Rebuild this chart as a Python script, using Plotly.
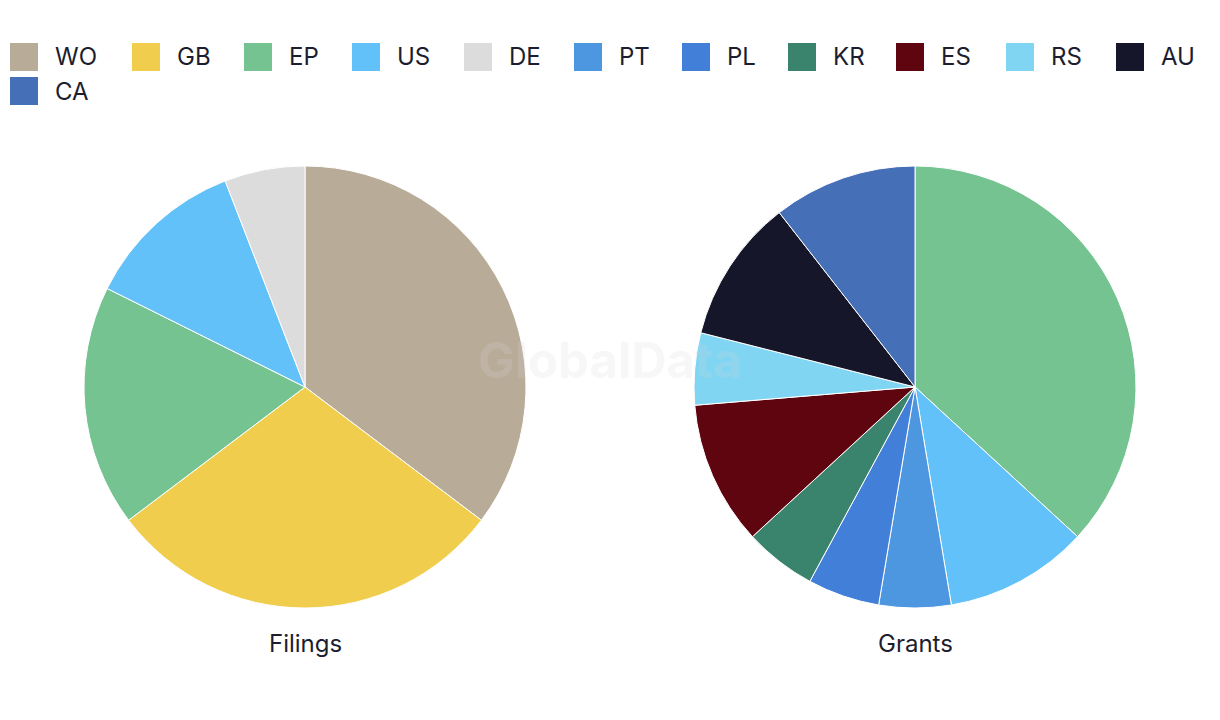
import plotly.graph_objects as go

filings_labels = ["WO", "GB", "EP", "US", "DE"]
filings_values = [6, 5, 3, 2, 1]
grants_labels = ["EP", "US", "PT", "PL", "KR", "ES", "RS", "AU", "CA"]
grants_values = [7, 2, 1, 1, 1, 2, 1, 2, 2]

legend_labels = ["WO", "GB", "EP", "US", "DE", "PT", "PL", "KR", "ES", "RS", "AU", "CA"]
legend_colors = ["#b8ab98", "#f0cd4d", "#74c391", "#62c1f9", "#dcdcdc", "#4d96e0",
                 "#427fd8", "#3a836d", "#5e0510", "#80d5f3", "#15162a", "#456fb6"]

# legend layout (pixel positions of each swatch: left x, top y)
legend_x = [10, 132, 244, 352, 464, 574, 682, 788, 896, 1006, 1116, 10]
legend_y = [43, 43, 43, 43, 43, 43, 43, 43, 43, 43, 43, 77]

color_map = dict(zip(legend_labels, legend_colors))

W, H = 1220, 720
font_family = "Inter, Roboto, sans-serif"
text_color = "#1c1d2e"

def dom(x0, x1, y0, y1):
    return dict(x=[x0 / W, x1 / W], y=[1 - y1 / H, 1 - y0 / H])

fig = go.Figure()
fig.add_trace(go.Pie(
    labels=filings_labels, values=filings_values, name="Filings",
    marker=dict(colors=[color_map[l] for l in filings_labels], line=dict(color="white", width=1)),
    sort=False, direction="clockwise", rotation=0, textinfo="none",
    domain=dom(84, 526, 166, 608),
))
fig.add_trace(go.Pie(
    labels=grants_labels, values=grants_values, name="Grants",
    marker=dict(colors=[color_map[l] for l in grants_labels], line=dict(color="white", width=1)),
    sort=False, direction="clockwise", rotation=0, textinfo="none",
    domain=dom(694, 1136, 166, 608),
))

# custom legend
for lab, col, lx, ly in zip(legend_labels, legend_colors, legend_x, legend_y):
    fig.add_shape(type="rect", xref="paper", yref="paper",
                  x0=lx / W, x1=(lx + 28) / W, y0=1 - (ly + 28) / H, y1=1 - ly / H,
                  fillcolor=col, line=dict(width=0))
    fig.add_annotation(x=(lx + 43) / W, y=1 - (ly + 14) / H, xref="paper", yref="paper",
                       text=lab, showarrow=False, xanchor="left", yanchor="middle",
                       font=dict(size=24, color=text_color, family=font_family))

fig.add_annotation(x=305 / W, y=1 - 643 / H, xref="paper", yref="paper", text="Filings",
                   showarrow=False, xanchor="center", yanchor="middle",
                   font=dict(size=24, color=text_color, family=font_family))
fig.add_annotation(x=915 / W, y=1 - 643 / H, xref="paper", yref="paper", text="Grants",
                   showarrow=False, xanchor="center", yanchor="middle",
                   font=dict(size=24, color=text_color, family=font_family))
fig.add_annotation(x=610 / W, y=1 - 360 / H, xref="paper", yref="paper", text="<b>GlobalData</b>",
                   showarrow=False, xanchor="center", yanchor="middle",
                   font=dict(size=49, color="rgba(215,215,215,0.2)", family=font_family))

fig.update_layout(
    width=W, height=H,
    margin=dict(l=0, r=0, t=0, b=0, autoexpand=False),
    paper_bgcolor="white", plot_bgcolor="white",
    font=dict(family=font_family, color=text_color),
    showlegend=False,
)

fig.write_html("out.html", config={"displayModeBar": False},
               post_script="document.body.style.margin='0px';")
